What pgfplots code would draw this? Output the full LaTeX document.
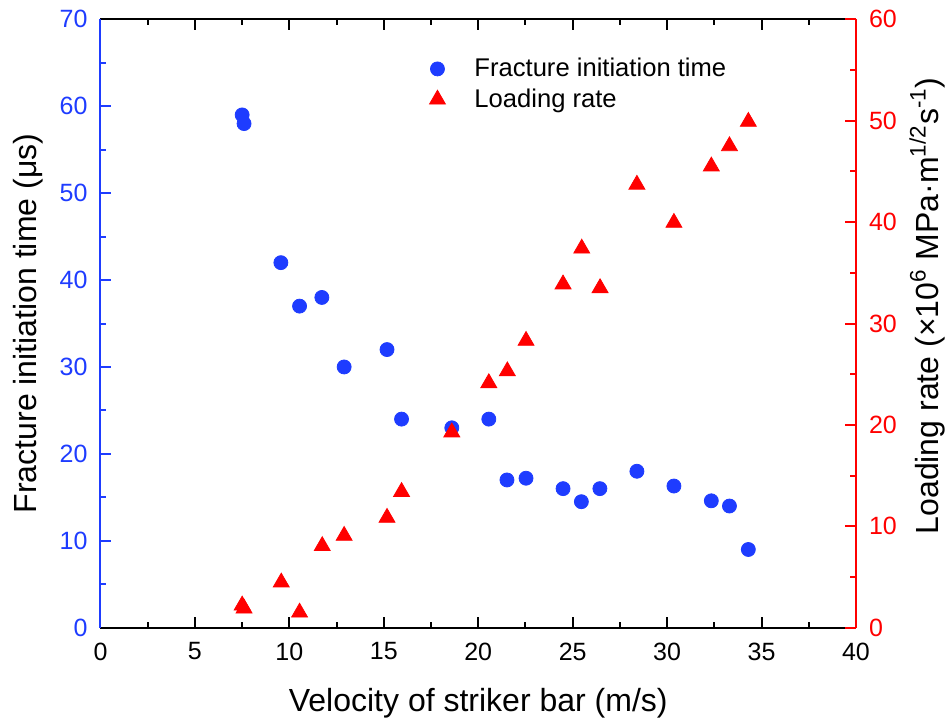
\documentclass[border=0pt]{standalone}
\usepackage{fontspec}
\setmainfont{Liberation Sans}
\usepackage{pgfplots}
\pgfplotsset{compat=1.18}
\definecolor{myblue}{RGB}{30,60,255}
\definecolor{myred}{RGB}{255,0,0}
\newcommand{\tickfont}{\fontsize{12.5}{15}\selectfont}
\newcommand{\legfont}{\fontsize{12.8}{15}\selectfont}
\newcommand{\labfont}{\fontsize{16}{19}\selectfont}
\begin{document}
\begin{tikzpicture}
\path[use as bounding box] (-50.25pt,-46.15pt) rectangle (423.75pt,313.85pt);
\begin{axis}[
  at={(0,0)}, anchor=south west,
  scale only axis, width=377.75pt, height=304.2pt,
  xmin=0, xmax=40, ymin=0, ymax=70,
  axis x line=box, axis y line*=left,
  xtick={0,5,...,40}, ytick={0,10,...,70},
  minor x tick num=1, minor y tick num=1,
  tick align=inside,
  major tick length=5.5pt, minor tick length=3pt,
  every tick/.style={line width=1pt},
  axis line style={line width=1pt},
  y axis line style={myblue},
  y tick style={myblue},
  /pgf/number format/assume math mode=true,
  ticklabel style={font=\tickfont},
  yticklabel style={text=myblue, xshift=-3pt},
  xticklabel style={yshift=-4pt},
  xlabel={Velocity of striker bar (m/s)},
  ylabel={Fracture initiation time (μs)},
  label style={font=\labfont},
  xlabel style={at={(axis description cs:0.5,0)}, anchor=base, yshift=-42pt},
  ylabel style={at={(axis description cs:-0.0845,0.5)}, anchor=base},
]
\addplot[only marks, mark=*, mark size=3.5pt, myblue] coordinates {
(7.5,59.0) (7.6,58.0) (9.55,42.0) (10.54,37.0) (11.72,38.0) (12.9,30.0)
(15.17,32.0) (15.94,24.0) (18.6,23.0) (20.56,24.0) (21.52,17.0) (22.53,17.2)
(24.49,16.0) (25.46,14.5) (26.44,16.0) (28.4,18.0) (30.36,16.3) (32.34,14.6)
(33.3,14.0) (34.3,9.0)
};
\end{axis}
\begin{axis}[
  at={(0,0)}, anchor=south west,
  scale only axis, width=377.75pt, height=304.2pt,
  xmin=0, xmax=40, ymin=0, ymax=60,
  axis x line=none, axis y line*=right,
  ytick={0,10,...,60}, minor y tick num=1,
  tick align=inside,
  major tick length=5.5pt, minor tick length=3pt,
  every tick/.style={line width=1pt},
  axis line style={line width=1pt},
  y axis line style={myred},
  y tick style={myred},
  /pgf/number format/assume math mode=true,
  ticklabel style={font=\tickfont},
  yticklabel style={text=myred, xshift=3pt},
  ylabel={Loading rate (×10\textsuperscript{6} MPa·m\textsuperscript{1/2}s\textsuperscript{-1})},
  label style={font=\labfont},
  ylabel style={at={(axis description cs:1.1086,0.529)}, anchor=base},
  legend cell align=left,
  legend style={draw=none, fill=none, at={(axis description cs:0.427,0.95)}, anchor=north west,
    font=\legfont, row sep=0.5pt,
    /tikz/every odd column/.append style={column sep=12.5pt}},
]
\addlegendimage{only marks, mark=*, mark size=3.5pt, myblue}
\addlegendentry{Fracture initiation time}
\addplot[only marks, mark=triangle*, mark size=4.6pt, myred] coordinates {
(7.5,2.2) (7.6,1.9) (9.57,4.47) (10.54,1.5) (11.74,8.06) (12.9,9.07)
(15.17,10.85) (15.94,13.4) (18.6,19.27) (20.56,24.13) (21.54,25.3) (22.53,28.3)
(24.49,33.87) (25.48,37.4) (26.45,33.5) (28.4,43.7) (30.36,39.94) (32.34,45.5)
(33.3,47.5) (34.3,49.9)
};
\addlegendentry{Loading rate}
\end{axis}
\end{tikzpicture}
\end{document}
